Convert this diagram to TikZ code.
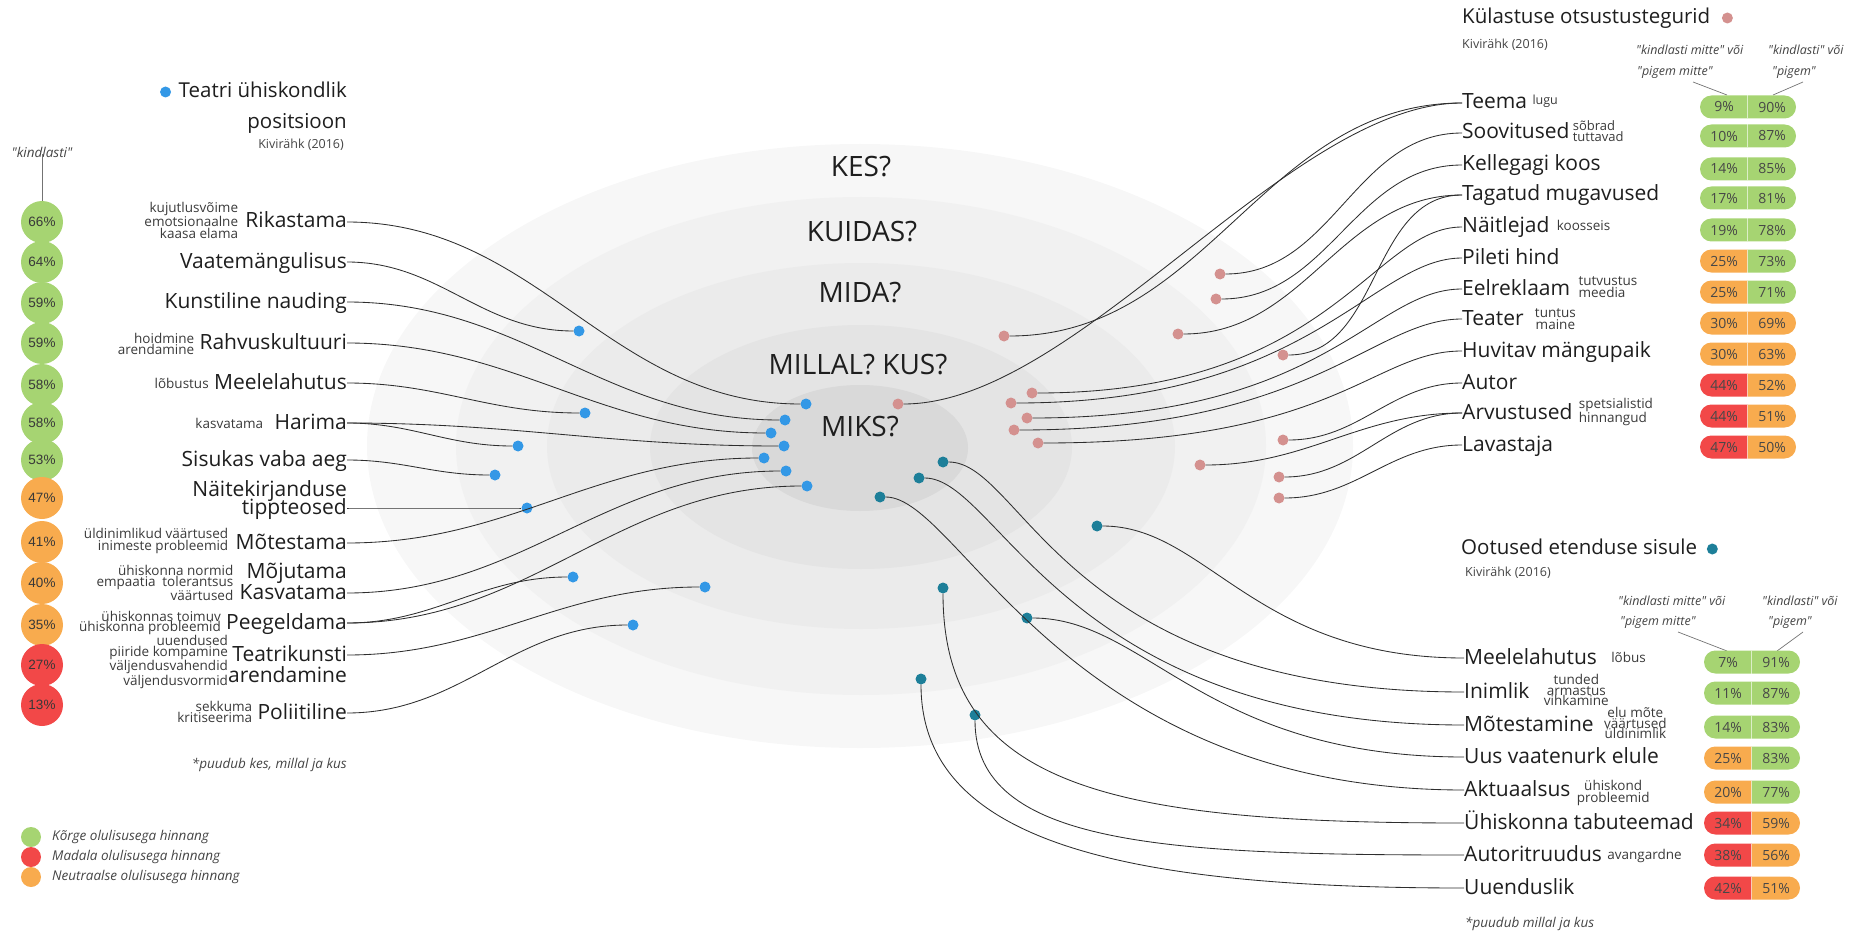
\documentclass[tikz,border=0pt]{standalone}
\usepackage{fontspec}
\setmainfont{Open Sans}
\newfontfamily\pctfont{Liberation Sans}

\definecolor{ink}{HTML}{1E1E1E}
\definecolor{subink}{HTML}{3A3A3A}
\definecolor{noteink}{HTML}{444444}
\definecolor{greenA}{HTML}{A6D472}
\definecolor{orangeA}{HTML}{F8AB4E}
\definecolor{redA}{HTML}{F24848}
\definecolor{blueDot}{HTML}{3398E6}
\definecolor{pinkDot}{HTML}{D4918F}
\definecolor{tealDot}{HTML}{1D7F99}
\definecolor{ringA}{HTML}{F7F7F7}
\definecolor{ringB}{HTML}{F1F1F1}
\definecolor{ringC}{HTML}{EBEBEB}
\definecolor{ringD}{HTML}{E4E4E4}
\definecolor{ringE}{HTML}{D9D9D9}

\newcommand\qq[1]{\textquotedbl#1\textquotedbl}

\tikzset{
  lbl/.style={font=\fontsize{21}{22}\selectfont, text=ink, inner sep=0pt, text height=16pt, text depth=4pt},
  lblL/.style={lbl, anchor=east},
  lblR/.style={lbl, anchor=west},
  subL/.style={font=\fontsize{13.5}{11.5}\selectfont, text=subink, inner sep=0pt, align=right, anchor=east},
  subR/.style={font=\fontsize{13.5}{11.5}\selectfont, text=subink, inner sep=0pt, align=left, anchor=west},
  subC/.style={font=\fontsize{13.5}{10.5}\selectfont, text=subink, inner sep=0pt, align=center, anchor=west},
  question/.style={font=\fontsize{28}{30}\selectfont, text=ink, inner sep=0pt},
  header/.style={font=\fontsize{20.5}{22}\selectfont, text=ink, inner sep=0pt, text height=15pt, text depth=4pt},
  source/.style={font=\fontsize{12.5}{14}\selectfont, text=noteink, inner sep=0pt},
  colhead/.style={font=\itshape\fontsize{12.5}{14}\selectfont, text=noteink, inner sep=0pt, anchor=west},
  note/.style={font=\itshape\fontsize{13.5}{15}\selectfont, text=noteink, inner sep=0pt},
  dotB/.style={circle, fill=blueDot, inner sep=0pt, minimum size=11pt},
  dotP/.style={circle, fill=pinkDot, inner sep=0pt, minimum size=11pt},
  dotT/.style={circle, fill=tealDot, inner sep=0pt, minimum size=11pt},
  pc/.style={circle, minimum size=42pt, inner sep=0pt, font=\pctfont\fontsize{13.5}{14}\selectfont, text=black!78},
  legdot/.style={circle, minimum size=20pt, inner sep=0pt},
  pctR/.style={font=\fontsize{14}{15}\selectfont, text=black!72, inner sep=0pt},
  conn/.style={draw=black!82, line width=0.85pt},
  pointer/.style={draw=black!55, line width=0.7pt},
}

% two-coloured rounded bar: #1 name, #2 left x, #3 centre y, #4/#5 colours, #6/#7 values
\newcommand\pillbar[7]{%
  \begin{scope}
    \clip (#2-1,#3-13) rectangle (#2+47.5,#3+13);
    \fill[#4, rounded corners=11.4pt] (#2,#3-11.5) rectangle (#2+96,#3+11.5);
  \end{scope}
  \begin{scope}
    \clip (#2+47.5,#3-13) rectangle (#2+97,#3+13);
    \fill[#5, rounded corners=11.4pt] (#2,#3-11.5) rectangle (#2+96,#3+11.5);
  \end{scope}
  \draw[white, line width=0.5pt, opacity=0.5] (#2+47.5,#3-11.5) -- (#2+47.5,#3+11.5);
  \node[pctR] (#1l) at (#2+24,#3) {#6};
  \node[pctR] (#1r) at (#2+72,#3) {#7};
}

\begin{document}
\begin{tikzpicture}[x=1pt,y=-1pt]
\useasboundingbox (0,0) rectangle (1874,936);

% ---- nested question rings ----
\fill[ringA] (860,446) ellipse [x radius=493, y radius=302];
\fill[ringB] (861,446) ellipse [x radius=405, y radius=249];
\fill[ringC] (861,446) ellipse [x radius=314, y radius=183];
\fill[ringD] (861,447) ellipse [x radius=211, y radius=122];
\fill[ringE] (860,448) ellipse [x radius=108, y radius=63];

\node[question] (qKes) at (861,167) {KES?};
\node[question] (qKuidas) at (862,232) {KUIDAS?};
\node[question] (qMida) at (860,293) {MIDA?};
\node[question] (qMillal) at (858,365) {MILLAL? KUS?};
\node[question] (qMiks) at (860,427) {MIKS?};

% ---- left block: societal position of theatre ----
\node[header, anchor=east] (hL1) at (347,92) {Teatri ühiskondlik};
\node[dotB] (hLdot) at ([xshift=-13pt]hL1.west) {};
\node[header, anchor=east] (hL2) at (347,123) {positsioon};
\node[source, anchor=east] (hL3) at (344,145) {Kivirähk (2016)};

\node[note, anchor=center] (kindl) at (42,152) {\qq{kindlasti}};

\node[pc, fill=greenA] (c1) at (42,222) {66\%};
\node[pc, fill=greenA] (c2) at (42,262) {64\%};
\node[pc, fill=greenA] (c3) at (42,303) {59\%};
\node[pc, fill=greenA] (c4) at (42,343) {59\%};
\node[pc, fill=greenA] (c5) at (42,385) {58\%};
\node[pc, fill=greenA] (c6) at (42,423) {58\%};
\node[pc, fill=greenA] (c7) at (42,460) {53\%};
\node[pc, fill=orangeA] (c8) at (42,498) {47\%};
\node[pc, fill=orangeA] (c9) at (42,542) {41\%};
\node[pc, fill=orangeA] (c10) at (42,583) {40\%};
\node[pc, fill=orangeA] (c11) at (42,625) {35\%};
\node[pc, fill=redA] (c12) at (42,665) {27\%};
\node[pc, fill=redA] (c13) at (42,705) {13\%};
\draw[pointer] (kindl.south) ++(0,-3) -- (c1.north);

\node[lblL] (Lrik) at (347,222) {Rikastama};
\node[subL] (Srik) at ([xshift=-7pt,yshift=2pt]Lrik.west) {kujutlusvõime\\emotsionaalne\\kaasa elama};
\node[lblL] (Lvaa) at (347,262) {Vaatemängulisus};
\node[lblL] (Lkun) at (347,302) {Kunstiline nauding};
\node[lblL] (Lrah) at (347,343) {Rahvuskultuuri};
\node[subL, font=\fontsize{13.5}{9}\selectfont] (Srah) at ([xshift=-5pt,yshift=-1pt]Lrah.west) {hoidmine\\arendamine};
\node[lblL] (Lmee) at (347,383) {Meelelahutus};
\node[subL] (Smee) at ([xshift=-5pt]Lmee.west) {lõbustus};
\node[lblL] (Lhar) at (347,423) {Harima};
\node[subL] (Shar) at ([xshift=-11pt]Lhar.west) {kasvatama};
\node[lblL] (Lsis) at (347,460) {Sisukas vaba aeg};
\node[lblL] (Lnai) at (347,490) {Näitekirjanduse};
\node[lblL] (Ltip) at (347,508) {tippteosed};
\node[lblL] (Lmot) at (347,543) {Mõtestama};
\node[subL] (Smot) at ([xshift=-7pt,yshift=2pt]Lmot.west) {üldinimlikud väärtused\\inimeste probleemid};
\node[lblL] (Lmoj) at (347,572) {Mõjutama};
\node[lblL] (Lkas) at (347,593) {Kasvatama};
\node[subL, font=\fontsize{13.5}{11}\selectfont] (Skas) at ([xshift=-6pt,yshift=10pt]Lkas.west) {ühiskonna normid\\empaatia\hspace{0.5em}tolerantsus\\väärtused};
\node[lblL] (Lpee) at (347,623) {Peegeldama};
\node[subL, font=\fontsize{13.5}{10.5}\selectfont] (Spee) at ([xshift=-5pt]Lpee.west) {ühiskonnas toimuv\\ühiskonna probleemid};
\node[lblL] (Ltea) at (347,655) {Teatrikunsti};
\node[lblL] (Lare) at (347,676) {arendamine};
\node[subL, font=\fontsize{13.5}{10.5}\selectfont] (Stea) at ([xshift=-4pt,yshift=-7pt]Ltea.west) {uuendused\\piiride kompamine\\väljendusvahendid\\väljendusvormid};
\node[lblL] (Lpol) at (347,713) {Poliitiline};
\node[subL] (Spol) at ([xshift=-5pt,yshift=1pt]Lpol.west) {sekkuma\\kritiseerima};

\node[note, anchor=east] (noteL) at (347,765) {*puudub kes, millal ja kus};

% legend
\node[legdot, fill=greenA] (lg1) at (31,837) {};
\node[legdot, fill=redA] (lg2) at (31,857) {};
\node[legdot, fill=orangeA] (lg3) at (31,877) {};
\node[note, anchor=west] (lt1) at (52,837) {Kõrge olulisusega hinnang};
\node[note, anchor=west] (lt2) at (52,857) {Madala olulisusega hinnang};
\node[note, anchor=west] (lt3) at (52,877) {Neutraalse olulisusega hinnang};

% blue dots
\node[dotB] (bRik) at (806,404) {};
\node[dotB] (bVaa) at (579,331) {};
\node[dotB] (bKun) at (785,420) {};
\node[dotB] (bRah) at (771,433) {};
\node[dotB] (bMee) at (585,413) {};
\node[dotB] (bHarA) at (518,446) {};
\node[dotB] (bHarB) at (784,446) {};
\node[dotB] (bSis) at (495,475) {};
\node[dotB] (bTip) at (527,508) {};
\node[dotB] (bMot) at (764,458) {};
\node[dotB] (bKas) at (786,471) {};
\node[dotB] (bPeeA) at (573,577) {};
\node[dotB] (bPeeB) at (807,486) {};
\node[dotB] (bTea) at (705,587) {};
\node[dotB] (bPol) at (633,625) {};

\draw[conn] (Lrik.east) to[out=0,in=180] (bRik);
\draw[conn] (Lvaa.east) to[out=0,in=180] (bVaa);
\draw[conn] (Lkun.east) to[out=0,in=180] (bKun);
\draw[conn] (Lrah.east) to[out=0,in=180] (bRah);
\draw[conn] (Lmee.east) to[out=0,in=180] (bMee);
\draw[conn] (Lhar.east) to[out=0,in=180] (bHarA);
\draw[conn] (Lhar.east) to[out=0,in=180] (bHarB);
\draw[conn] (Lsis.east) to[out=0,in=180] (bSis);
\draw[conn] (Ltip.east) to[out=0,in=180] (bTip);
\draw[conn] (Lmot.east) to[out=0,in=180] (bMot);
\draw[conn] (Lkas.east) to[out=0,in=180] (bKas);
\draw[conn] (Lpee.east) to[out=0,in=180] (bPeeA);
\draw[conn] (Lpee.east) to[out=0,in=180] (bPeeB);
\draw[conn] (Ltea.east) to[out=0,in=180] (bTea);
\draw[conn] (Lpol.east) to[out=0,in=180] (bPol);

% ---- top right: attendance decision factors ----
\node[header, anchor=west] (hR1) at (1462,18) {Külastuse otsustustegurid};
\node[dotP] (hRdot) at ([xshift=17pt]hR1.east) {};
\node[source, anchor=west] (hR2) at (1462,45) {Kivirähk (2016)};
\node[colhead] (chA1) at (1636,50) {\qq{kindlasti mitte} või};
\node[colhead] (chA2) at (1637,72) {\qq{pigem mitte}};
\node[colhead] (chB1) at (1768,50) {\qq{kindlasti} või};
\node[colhead] (chB2) at (1772,72) {\qq{pigem}};
\coordinate (ptA) at (1727,95);
\coordinate (ptB) at (1773,95);
\draw[pointer] (1693,82) -- (ptA);
\draw[pointer] (1803,82) -- (ptB);

\node[lblR] (Rtee) at (1462,103) {Teema};
\node[subR, font=\fontsize{12.5}{12}\selectfont] (Stee) at ([xshift=5pt,yshift=1.5pt]Rtee.east) {lugu};
\node[lblR] (Rsoo) at (1462,133) {Soovitused};
\node[subR, font=\fontsize{13}{11}\selectfont] (Ssoo) at ([xshift=3pt,yshift=2pt]Rsoo.east) {sõbrad\\tuttavad};
\node[lblR] (Rkel) at (1462,165) {Kellegagi koos};
\node[lblR] (Rtag) at (1462,195) {Tagatud mugavused};
\node[lblR] (Rnai) at (1462,227) {Näitlejad};
\node[subR] (Snai) at ([xshift=7pt,yshift=2pt]Rnai.east) {koosseis};
\node[lblR] (Rpil) at (1462,258) {Pileti hind};
\node[lblR] (Reel) at (1462,289) {Eelreklaam};
\node[subR, font=\fontsize{13.5}{11.5}\selectfont] (Seel) at ([xshift=8pt,yshift=2pt]Reel.east) {tutvustus\\meedia};
\node[lblR] (Rtea) at (1462,319) {Teater};
\node[subC, font=\fontsize{13.5}{12.5}\selectfont] (Stea2) at ([xshift=11pt,yshift=0pt]Rtea.east) {tuntus\\maine};
\node[lblR] (Rhuv) at (1462,351) {Huvitav mängupaik};
\node[lblR] (Raut) at (1462,383) {Autor};
\node[lblR] (Rarv) at (1462,413) {Arvustused};
\node[subR, font=\fontsize{13.5}{11.5}\selectfont] (Sarv) at ([xshift=6pt,yshift=1pt]Rarv.east) {spetsialistid\\hinnangud};
\node[lblR] (Rlav) at (1462,445) {Lavastaja};

\pillbar{pa}{1700}{107}{greenA}{greenA}{9\%}{90\%}
\pillbar{pb}{1700}{136}{greenA}{greenA}{10\%}{87\%}
\pillbar{pc}{1700}{169}{greenA}{greenA}{14\%}{85\%}
\pillbar{pd}{1700}{198}{greenA}{greenA}{17\%}{81\%}
\pillbar{pe}{1700}{230}{greenA}{greenA}{19\%}{78\%}
\pillbar{pf}{1700}{261}{orangeA}{greenA}{25\%}{73\%}
\pillbar{pg}{1700}{292}{orangeA}{greenA}{25\%}{71\%}
\pillbar{ph}{1700}{323}{orangeA}{orangeA}{30\%}{69\%}
\pillbar{pi}{1700}{354}{orangeA}{orangeA}{30\%}{63\%}
\pillbar{pj}{1700}{385}{redA}{orangeA}{44\%}{52\%}
\pillbar{pk}{1700}{416}{redA}{orangeA}{44\%}{51\%}
\pillbar{pl}{1700}{447}{redA}{orangeA}{47\%}{50\%}

% pink dots
\node[dotP] (pTeeA) at (1004,336) {};
\node[dotP] (pTeeB) at (898,404) {};
\node[dotP] (pSoo) at (1220,274) {};
\node[dotP] (pKel) at (1216,299) {};
\node[dotP] (pTagA) at (1178,334) {};
\node[dotP] (pTagB) at (1283,355) {};
\node[dotP] (pNai) at (1032,393) {};
\node[dotP] (pPil) at (1011,403) {};
\node[dotP] (pEel) at (1027,418) {};
\node[dotP] (pTea) at (1014,430) {};
\node[dotP] (pHuv) at (1038,443) {};
\node[dotP] (pAut) at (1283,440) {};
\node[dotP] (pArvA) at (1200,465) {};
\node[dotP] (pArvB) at (1279,477) {};
\node[dotP] (pLav) at (1279,498) {};

\draw[conn] (pTeeA) to[out=0,in=180] (Rtee.west);
\draw[conn] (pTeeB) to[out=0,in=180,looseness=0.7] (Rtee.west);
\draw[conn] (pSoo) to[out=0,in=180] (Rsoo.west);
\draw[conn] (pKel) to[out=0,in=180] (Rkel.west);
\draw[conn] (pTagA) to[out=0,in=180] (Rtag.west);
\draw[conn] (pTagB) to[out=0,in=180] (Rtag.west);
\draw[conn] (pNai) .. controls +(300,0) and +(-90,0) .. (Rnai.west);
\draw[conn] (pPil) .. controls +(300,0) and +(-90,0) .. (Rpil.west);
\draw[conn] (pEel) .. controls +(300,0) and +(-90,0) .. (Reel.west);
\draw[conn] (pTea) .. controls +(300,0) and +(-90,0) .. (Rtea.west);
\draw[conn] (pHuv) .. controls +(300,0) and +(-90,0) .. (Rhuv.west);
\draw[conn] (pAut) to[out=0,in=180] (Raut.west);
\draw[conn] (pArvA) to[out=0,in=180] (Rarv.west);
\draw[conn] (pArvB) to[out=0,in=180] (Rarv.west);
\draw[conn] (pLav) to[out=0,in=180] (Rlav.west);

% ---- bottom right: expectations on the play's content ----
\node[header, anchor=west] (hT1) at (1461,549) {Ootused etenduse sisule};
\node[dotT] (hTdot) at ([xshift=15pt]hT1.east) {};
\node[source, anchor=west] (hT2) at (1465,573) {Kivirähk (2016)};
\node[colhead] (chC1) at (1618,601) {\qq{kindlasti mitte} või};
\node[colhead] (chC2) at (1620,622) {\qq{pigem mitte}};
\node[colhead] (chD1) at (1762,601) {\qq{kindlasti} või};
\node[colhead] (chD2) at (1768,622) {\qq{pigem}};
\coordinate (ptC) at (1727,651);
\coordinate (ptD) at (1777,651);
\draw[pointer] (1678,632) -- (ptC);
\draw[pointer] (1803,632) -- (ptD);

\node[lblR] (Tmee) at (1464,658) {Meelelahutus};
\node[subR] (Smee2) at ([xshift=14pt,yshift=1pt]Tmee.east) {lõbus};
\node[lblR] (Tini) at (1464,692) {Inimlik};
\node[subC] (Sini) at ([xshift=14pt,yshift=2pt]Tini.east) {tunded\\armastus\\vihkamine};
\node[lblR] (Tmot) at (1464,725) {Mõtestamine};
\node[subC] (Smot2) at ([xshift=10pt,yshift=2pt]Tmot.east) {elu mõte\\väärtused\\üldinimlik};
\node[lblR] (Tuus) at (1464,757) {Uus vaatenurk elule};
\node[lblR] (Takt) at (1464,790) {Aktuaalsus};
\node[subC, font=\fontsize{13.5}{12.5}\selectfont] (Sakt) at ([xshift=6pt,yshift=-3pt]Takt.east) {ühiskond\\probleemid};
\node[lblR] (Tyhi) at (1464,823) {Ühiskonna tabuteemad};
\node[lblR] (Taut) at (1464,855) {Autoritruudus};
\node[subR] (Saut) at ([xshift=5pt,yshift=-1pt]Taut.east) {avangardne};
\node[lblR] (Tuue) at (1464,888) {Uuenduslik};

\pillbar{qa}{1704}{662}{greenA}{greenA}{7\%}{91\%}
\pillbar{qb}{1704}{693}{greenA}{greenA}{11\%}{87\%}
\pillbar{qc}{1704}{727}{greenA}{greenA}{14\%}{83\%}
\pillbar{qd}{1704}{758}{orangeA}{greenA}{25\%}{83\%}
\pillbar{qe}{1704}{792}{orangeA}{greenA}{20\%}{77\%}
\pillbar{qf}{1704}{823}{redA}{orangeA}{34\%}{59\%}
\pillbar{qg}{1704}{855}{redA}{orangeA}{38\%}{56\%}
\pillbar{qh}{1704}{888}{redA}{orangeA}{42\%}{51\%}

\node[note, anchor=west] (noteR) at (1465,924) {*puudub millal ja kus};

% teal dots
\node[dotT] (tMee) at (1097,526) {};
\node[dotT] (tIni) at (943,462) {};
\node[dotT] (tMot) at (919,478) {};
\node[dotT] (tUus) at (1027,618) {};
\node[dotT] (tAkt) at (880,497) {};
\node[dotT] (tYhi) at (943,588) {};
\node[dotT] (tAut) at (975,715) {};
\node[dotT] (tUue) at (921,679) {};

\draw[conn] (tMee) .. controls +(110,0) and +(-210,0) .. (Tmee.west);
\draw[conn] (tIni) .. controls +(80,0) and +(-400,0) .. (Tini.west);
\draw[conn] (tMot) .. controls +(80,0) and +(-400,0) .. (Tmot.west);
\draw[conn] (tUus) .. controls +(120,0) and +(-260,0) .. (Tuus.west);
\draw[conn] (tAkt) .. controls +(80,0) and +(-400,0) .. (Takt.west);
\draw[conn] (tYhi) .. controls +(0,200) and +(-350,0) .. (Tyhi.west);
\draw[conn] (tAut) .. controls +(0,130) and +(-300,0) .. (Taut.west);
\draw[conn] (tUue) .. controls +(0,160) and +(-350,0) .. (Tuue.west);

\end{tikzpicture}
\end{document}
